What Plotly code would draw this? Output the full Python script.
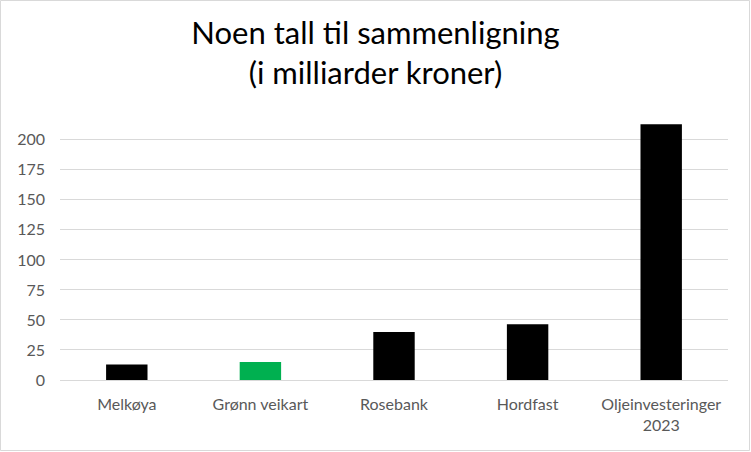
import plotly.graph_objects as go

# data (billion NOK)
categories = ["Melkøya", "Grønn veikart", "Rosebank", "Hordfast", "Oljeinvesteringer<br>2023"]
values = [13, 15, 40, 46.5, 213]
bar_colors = ["#000000", "#00b050", "#000000", "#000000", "#000000"]
y_ticks = [0, 25, 50, 75, 100, 125, 150, 175, 200]
title_text = "Noen tall til sammenligning<br>(i milliarder kroner)"

W, H = 751, 452
M_L, M_R, M_T, M_B = 60, 23, 123, 72
plot_w = W - M_L - M_R
plot_h = H - M_T - M_B

fig = go.Figure()

fig.add_trace(
    go.Bar(
        x=categories,
        y=values,
        marker_color=bar_colors,
        marker_line_width=0,
        width=0.31,
        hoverinfo="x+y",
    )
)

fig.update_layout(
    width=W,
    height=H,
    margin=dict(l=M_L, r=M_R, t=M_T, b=M_B),
    paper_bgcolor="white",
    plot_bgcolor="white",
    showlegend=False,
    font=dict(family="Lato", color="#595959"),
    title=dict(
        text=title_text,
        x=0.5,
        xanchor="center",
        y=1 - 44 / H,
        yanchor="middle",
        font=dict(family="Lato", size=31, color="#000000"),
    ),
)

fig.update_yaxes(
    range=[0, 214],
    tickvals=y_ticks,
    showgrid=True,
    gridcolor="#d9d9d9",
    gridwidth=1,
    zeroline=False,
    showline=False,
    ticks="",
    ticklabelstandoff=14,
    tickfont=dict(size=16, color="#595959"),
)

fig.update_xaxes(
    showgrid=False,
    showline=True,
    linecolor="#d9d9d9",
    linewidth=1,
    ticks="",
    ticklabelstandoff=10,
    tickfont=dict(size=16, color="#595959"),
)

# thin grey frame round the whole chart
fig.add_shape(
    type="rect",
    xref="paper",
    yref="paper",
    x0=-(M_L - 0.5) / plot_w,
    x1=1 + (M_R - 1.5) / plot_w,
    y0=-(M_B - 1.5) / plot_h,
    y1=1 + (M_T - 0.5) / plot_h,
    line=dict(color="#d9d9d9", width=1),
    layer="below",
)

fig.write_html(
    "out.html",
    config={"displayModeBar": False},
    post_script="document.body.style.margin='0';",
)
